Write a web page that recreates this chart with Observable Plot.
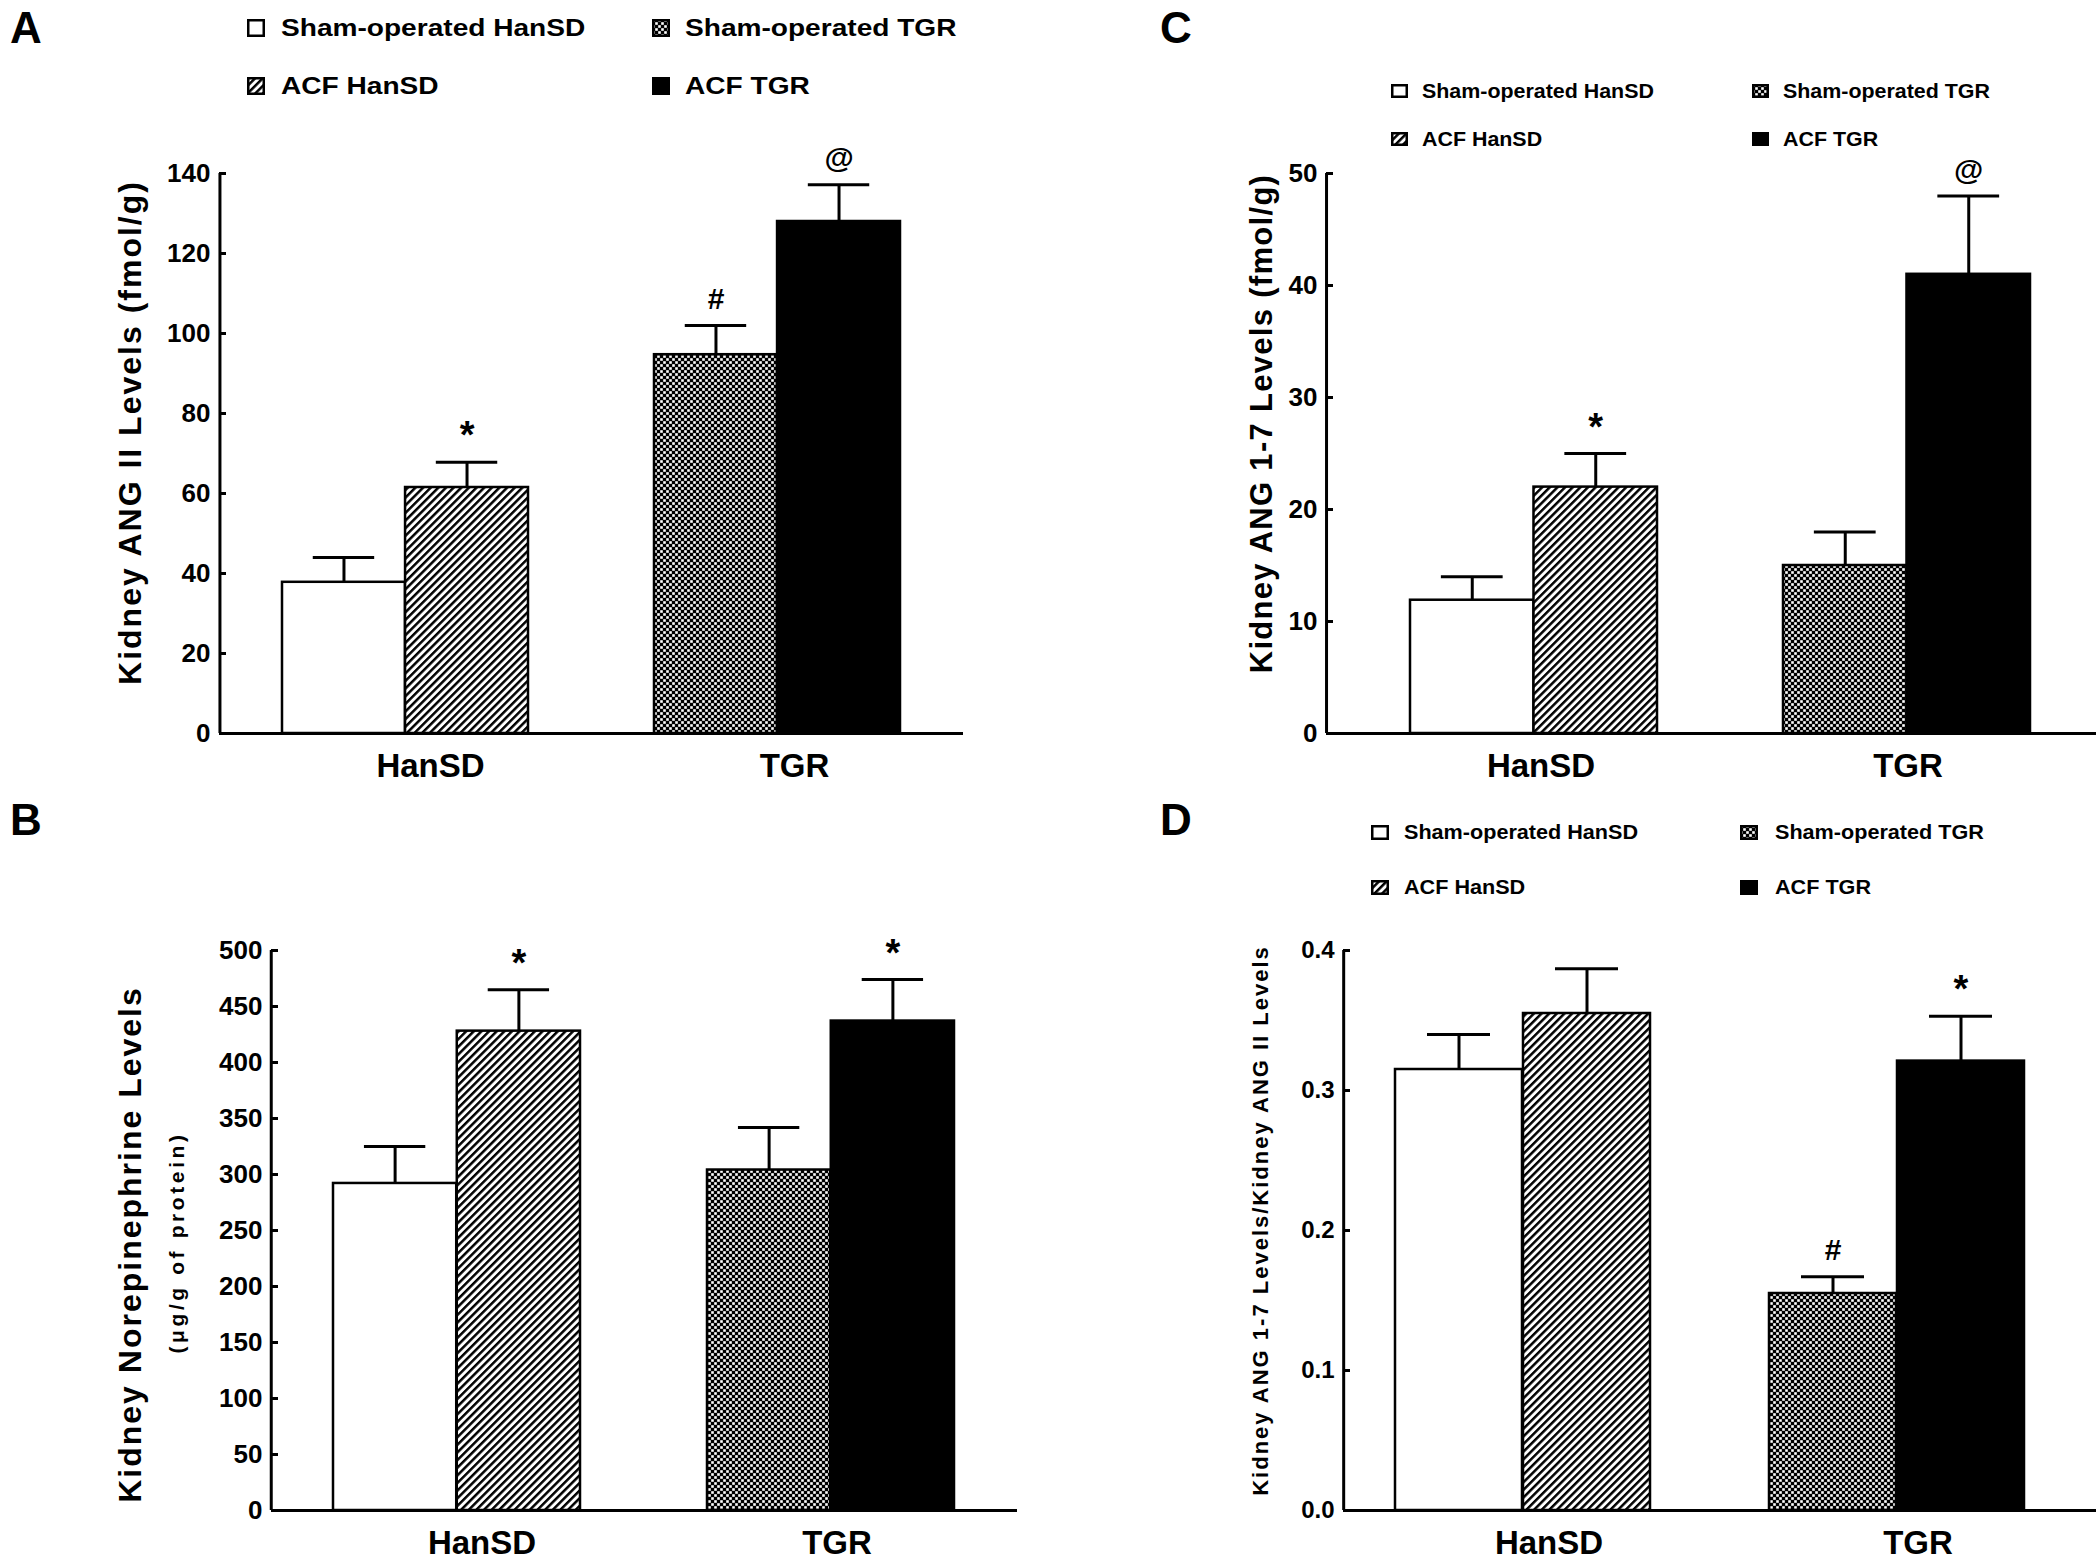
<!DOCTYPE html>
<html><head><meta charset="utf-8">
<script src="https://cdn.jsdelivr.net/npm/d3@7"></script>
<script src="https://cdn.jsdelivr.net/npm/@observablehq/plot@0.6"></script>
<style>
body{margin:0;background:#fff;}
#page{position:relative;width:2100px;height:1563px;overflow:hidden;font-family:"Liberation Sans",Arial,Helvetica,sans-serif;font-weight:bold;color:#000;background:#fff;}
.panel{position:absolute;}
.letter{position:absolute;font-size:44px;line-height:44px;}
.leg{position:absolute;display:flex;align-items:center;white-space:nowrap;}
.leg svg{flex:none;display:block;}
.leg span{display:inline-block;transform-origin:left center;}
</style></head><body>
<svg width="0" height="0" style="position:absolute">
<defs>
<pattern id="hatch" patternUnits="userSpaceOnUse" width="5.4" height="10" patternTransform="rotate(45)">
<rect width="5.4" height="10" fill="white"/>
<rect width="2.5" height="10" fill="black"/>
</pattern>
<pattern id="checker" patternUnits="userSpaceOnUse" width="6" height="6">
<rect width="6" height="6" fill="black"/>
<rect x="0.2" y="0.2" width="2.6" height="2.6" fill="white"/>
<rect x="3.2" y="3.2" width="2.6" height="2.6" fill="white"/>
</pattern>
</defs>
</svg>
<div id="page"></div>
<script>
// ---------- data ----------
const groups = ["HanSD", "TGR"];
const seriesNames = ["Sham-operated HanSD", "ACF HanSD", "Sham-operated TGR", "ACF TGR"];
const seriesGroup = ["HanSD", "HanSD", "TGR", "TGR"];
const seriesTreatment = ["Sham", "ACF", "Sham", "ACF"];
const seriesFill = ["white", "url(#hatch)", "url(#checker)", "black"];

// Panel A: Kidney ANG II (fmol/g)
const angIIMean = [37.8, 61.5, 94.7, 128.0];
const angIISem = [6.2, 6.3, 7.3, 9.2];
const angIISig = ["", "*", "#", "@"];
const angIITicks = [0, 20, 40, 60, 80, 100, 120, 140];

// Panel C: Kidney ANG 1-7 (fmol/g)
const ang17Mean = [11.9, 22.0, 15.0, 41.0];
const ang17Sem = [2.1, 3.0, 3.0, 7.0];
const ang17Sig = ["", "*", "", "@"];
const ang17Ticks = [0, 10, 20, 30, 40, 50];

// Panel B: Kidney norepinephrine (µg/g of protein)
const neMean = [292, 428, 304, 437];
const neSem = [33, 37, 38, 37];
const neSig = ["", "*", "", "*"];
const neTicks = [0, 50, 100, 150, 200, 250, 300, 350, 400, 450, 500];

// Panel D: ANG 1-7 / ANG II ratio
const ratioMean = [0.315, 0.355, 0.155, 0.321];
const ratioSem = [0.025, 0.032, 0.012, 0.032];
const ratioSig = ["", "", "#", "*"];
const ratioTicks = [0, 0.1, 0.2, 0.3, 0.4];

// ---------- drawing ----------
const page = document.getElementById("page");
const FONT = '"Liberation Sans", Arial, Helvetica, sans-serif';

function makePanel(cfg) {
  const rows = cfg.mean.map((v, i) => ({
    series: seriesNames[i], group: seriesGroup[i], treatment: seriesTreatment[i],
    value: v, hi: v + cfg.sem[i], sig: cfg.sig[i]
  }));
  const L = cfg.layout;
  const range = L.width - L.mL - L.mR;
  const n = groups.length;
  const step = range / (n - L.pi + 2 * L.po);
  const band = step * (1 - L.pi);
  const half = band / 2;
  const capInset = half / 4;
  const firstCentre = (range - step * (n - L.pi)) * L.align + band / 2;
  const sham = rows.filter(d => d.treatment === "Sham");
  const acf = rows.filter(d => d.treatment === "ACF");
  const sigSize = d => d.sig === "*" ? 38 : 30;
  const chart = Plot.plot({
    width: L.width, height: L.height,
    marginLeft: L.mL, marginRight: L.mR, marginTop: L.mT, marginBottom: L.mB,
    x: {domain: groups, paddingInner: L.pi, paddingOuter: L.po, align: L.align},
    y: {domain: cfg.domain},
    color: {domain: seriesNames, range: seriesFill},
    style: {fontFamily: FONT, fontWeight: "bold", color: "black", background: "transparent", overflow: "visible", maxWidth: "none"},
    marks: [
      Plot.ruleX(sham, {x: "group", y1: "value", y2: "hi", dx: -half / 2, strokeWidth: 3}),
      Plot.ruleX(acf, {x: "group", y1: "value", y2: "hi", dx: half / 2, strokeWidth: 3}),
      Plot.tickY(sham, {x: "group", y: "hi", insetLeft: capInset, insetRight: half + capInset, strokeWidth: 3}),
      Plot.tickY(acf, {x: "group", y: "hi", insetLeft: half + capInset, insetRight: capInset, strokeWidth: 3}),
      Plot.barY(sham, {x: "group", y: "value", fill: "series", stroke: "black", strokeWidth: 2.5, insetRight: half}),
      Plot.barY(acf, {x: "group", y: "value", fill: "series", stroke: "black", strokeWidth: 2.5, insetLeft: half}),
      Plot.text(sham.filter(d => d.sig), {x: "group", y: "hi", text: "sig", dx: -half / 2, dy: -26, fontSize: sigSize}),
      Plot.text(acf.filter(d => d.sig), {x: "group", y: "hi", text: "sig", dx: half / 2, dy: -26, fontSize: sigSize}),
      Plot.ruleY([0], {strokeWidth: 3}),
      Plot.ruleX([groups[0]], {x: d => d, y1: cfg.domain[0], y2: cfg.domain[1], dx: -firstCentre, strokeWidth: 3}),
      Plot.axisY({ticks: cfg.ticks, tickFormat: cfg.tickFormat, tickSize: -7, tickPadding: 16, fontSize: cfg.tickFont, strokeWidth: 3, label: null}),
      ...groups.map((g, i) => Plot.axisX({ticks: [g], tickSize: 0, tickPadding: 20, fontSize: 33, label: null, dx: cfg.catDx[i]})),
      ...cfg.labels.map(lb => Plot.text([lb.text], {text: d => d, frameAnchor: "left", textAnchor: "middle", lineAnchor: "middle", rotate: -90, dx: lb.dx, dy: lb.dy, fontSize: lb.size}))
    ]
  });
  chart.querySelectorAll("text").forEach(t => {
    const lb = cfg.labels.find(l => l.text === t.textContent);
    if (lb) t.style.letterSpacing = lb.ls + "px";
  });
  const div = document.createElement("div");
  div.className = "panel";
  div.style.left = L.left + "px";
  div.style.top = L.top + "px";
  div.appendChild(chart);
  page.appendChild(div);

  const letter = document.createElement("div");
  letter.className = "letter";
  letter.textContent = cfg.letter.text;
  letter.style.left = cfg.letter.x + "px";
  letter.style.top = cfg.letter.y + "px";
  page.appendChild(letter);

  if (cfg.legend) {
    const G = cfg.legend;
    seriesNames.forEach((name, i) => {
      const col = groups.indexOf(seriesGroup[i]);
      const row = seriesTreatment[i] === "Sham" ? 0 : 1;
      const item = document.createElement("div");
      item.className = "leg";
      const h = Math.max(G.sq[1], G.font) + 4;
      item.style.left = G.sqX[col] + "px";
      item.style.top = (G.rows[row] - h / 2) + "px";
      item.style.height = h + "px";
      item.style.fontSize = G.font + "px";
      const sw = G.sq[0], sh = G.sq[1];
      item.innerHTML = `<svg width="${sw}" height="${sh}"><rect x="1.25" y="1.25" width="${sw - 2.5}" height="${sh - 2.5}" fill="${seriesFill[i]}" stroke="black" stroke-width="2.5"/></svg>`;
      const span = document.createElement("span");
      span.textContent = name;
      span.style.marginLeft = (G.txtX[col] - G.sqX[col] - sw) + "px";
      span.style.transform = `scaleX(${G.scale})`;
      item.appendChild(span);
      page.appendChild(item);
    });
  }
}

makePanel({
  mean: angIIMean, sem: angIISem, sig: angIISig, ticks: angIITicks, domain: [0, 140], tickFont: 26,
  layout: {left: 0, top: 130, width: 1000, height: 680, mL: 219, mR: 37, mT: 43, mB: 77, pi: 0.34, po: 0.1676, align: 0.5},
  catDx: [25, 17],
  labels: [{text: "Kidney ANG II Levels (fmol/g)", dx: -89, dy: -21, size: 32, ls: 2}],
  letter: {text: "A", x: 10, y: 6},
  legend: {rows: [28, 86], sqX: [247, 652], txtX: [281, 685], sq: [18, 18], font: 24, scale: 1.17}
});

makePanel({
  mean: ang17Mean, sem: ang17Sem, sig: ang17Sig, ticks: ang17Ticks, domain: [0, 50], tickFont: 26,
  layout: {left: 1050, top: 130, width: 1050, height: 680, mL: 276, mR: 4, mT: 43, mB: 77, pi: 0.338, po: 0.201, align: 0.56},
  catDx: [7, 1],
  labels: [{text: "Kidney ANG 1-7 Levels (fmol/g)", dx: -64, dy: -30, size: 31, ls: 1.3}],
  letter: {text: "C", x: 1160, y: 6},
  legend: {rows: [91, 139], sqX: [1391, 1752], txtX: [1422, 1783], sq: [17, 14], font: 20, scale: 1.07}
});

makePanel({
  mean: neMean, sem: neSem, sig: neSig, ticks: neTicks, domain: [0, 500], tickFont: 26,
  layout: {left: 0, top: 900, width: 1050, height: 663, mL: 271, mR: 33, mT: 50, mB: 53, pi: 0.339, po: 0.1655, align: 0.5},
  catDx: [25, 6],
  labels: [
    {text: "Kidney Norepinephrine Levels", dx: -141, dy: 14, size: 32, ls: 2},
    {text: "(μg/g of protein)", dx: -94, dy: 12, size: 21, ls: 3.6}
  ],
  letter: {text: "B", x: 10, y: 798},
  legend: null
});

makePanel({
  mean: ratioMean, sem: ratioSem, sig: ratioSig, ticks: ratioTicks, tickFormat: ".1f", domain: [0, 0.4], tickFont: 24,
  layout: {left: 1050, top: 900, width: 1050, height: 663, mL: 293, mR: 4, mT: 50, mB: 53, pi: 0.317, po: 0.163, align: 0.42},
  catDx: [26, 21],
  labels: [{text: "Kidney ANG 1-7 Levels/Kidney ANG II Levels", dx: -83, dy: -10, size: 22, ls: 2}],
  letter: {text: "D", x: 1160, y: 798},
  legend: {rows: [832, 887], sqX: [1371, 1740], txtX: [1404, 1775], sq: [18, 15], font: 20, scale: 1.08}
});
</script>
</body></html>
